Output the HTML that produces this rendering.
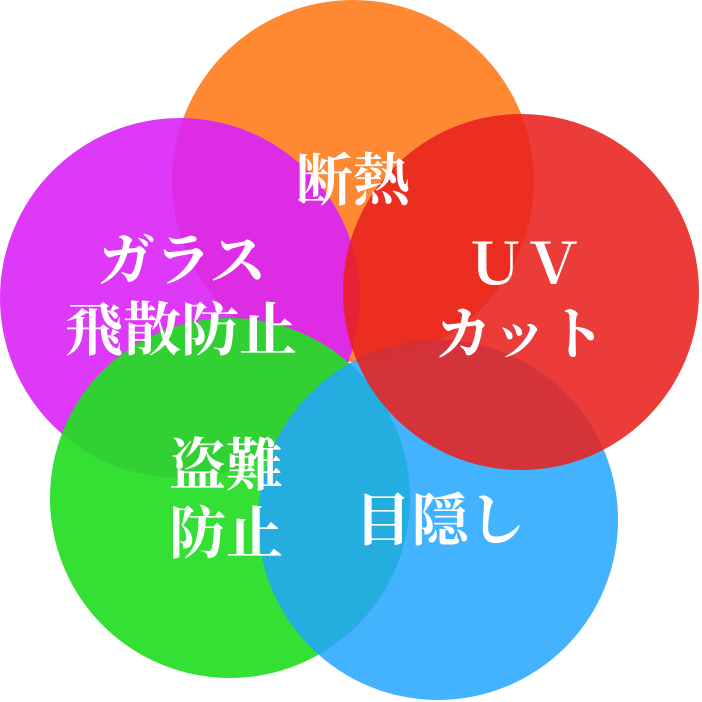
<!DOCTYPE html>
<html><head><meta charset="utf-8"><style>
html,body{margin:0;padding:0;background:#fff;}
svg{display:block}
text{font-family:"Liberation Serif","Noto Serif CJK SC",serif;font-weight:bold;fill:#fff;text-anchor:middle}
</style></head><body>
<svg width="702" height="702" viewBox="0 0 702 702">
<circle cx="353" cy="181" r="181" fill="#FF8833"/>
<circle cx="180" cy="298" r="180" fill="#DA22F8" opacity="0.9"/>
<circle cx="230" cy="498" r="180" fill="#22DD22" opacity="0.92"/>
<circle cx="438" cy="520" r="180" fill="#22A4FF" opacity="0.85"/>
<circle cx="521" cy="292" r="178" fill="#E8211E" opacity="0.88"/>
<text x="353" y="200" font-size="57">断熱</text>
<text x="182" y="280" font-size="57">ガラス</text>
<text x="181" y="350" font-size="58">飛散防止</text>
<text x="524" y="284" font-size="57">ＵＶ</text>
<text x="520" y="354" font-size="57">カット</text>
<text x="226" y="485" font-size="57">盗難</text>
<text x="226" y="553" font-size="57">防止</text>
<text x="440" y="540" font-size="57">目隠し</text>
</svg>
</body></html>
